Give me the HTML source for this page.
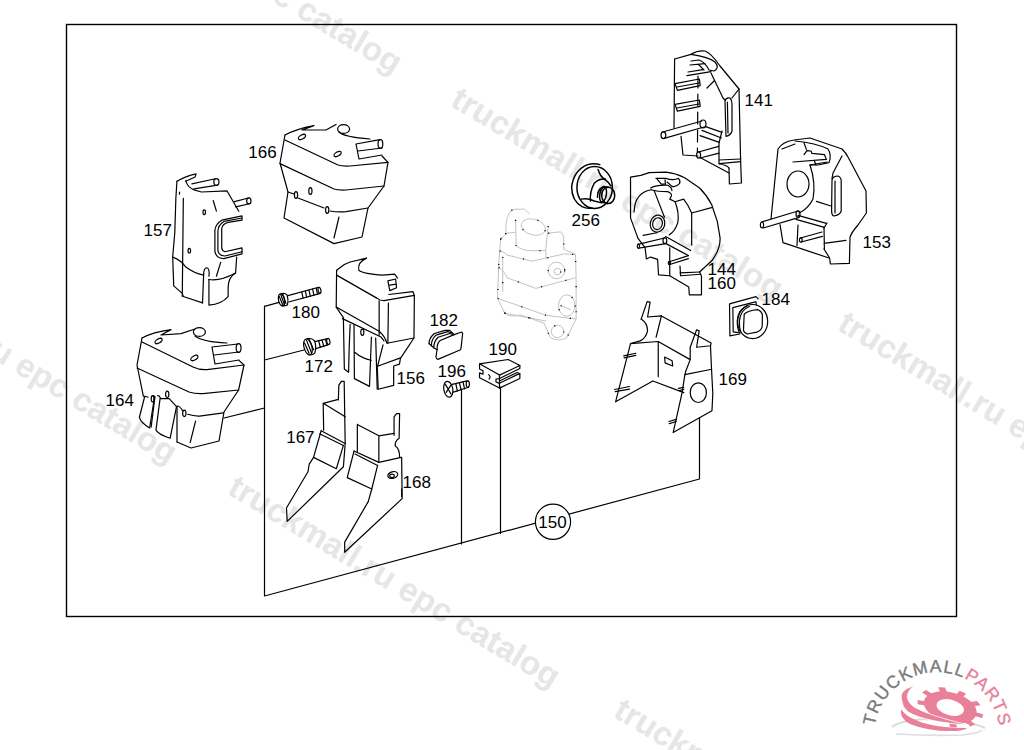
<!DOCTYPE html>
<html><head><meta charset="utf-8">
<style>
html,body{margin:0;padding:0;background:#fff;width:1024px;height:750px;overflow:hidden}
svg{position:absolute;left:0;top:0;display:block}
.d path,.d polyline,.d ellipse,.d circle,.d line,.d rect{fill:none;stroke:#000;stroke-width:1.2;vector-effect:non-scaling-stroke;stroke-linejoin:round;stroke-linecap:round}
.d256 path,.d256 ellipse{stroke-width:1.5}
.lbl{font-family:"Liberation Sans",sans-serif;font-size:17px;fill:#000}
.wm{font-family:"Liberation Sans",sans-serif;font-weight:bold;font-size:33px;fill:#e6e6e6}
</style></head>
<body>
<svg width="1024" height="750" viewBox="0 0 1024 750">
<!-- watermarks -->
<g id="wm">
<text class="wm" transform="translate(68,-121) rotate(31)">truckmall.ru epc catalog</text>
<text class="wm" transform="translate(449,105) rotate(31)">truckmall.ru epc catalog</text>
<text class="wm" transform="translate(836,329) rotate(31)">truckmall.ru epc catalog</text>
<text class="wm" transform="translate(-157,269) rotate(31)">truckmall.ru epc catalog</text>
<text class="wm" transform="translate(226,493) rotate(31)">truckmall.ru epc catalog</text>
<text class="wm" transform="translate(612,716) rotate(31)">truckmall.ru epc catalog</text>
</g>
<!-- border -->
<rect x="66.5" y="24.5" width="890" height="592" fill="none" stroke="#000" stroke-width="1.4"/>
<g class="d">
<!-- 166 -->
<g transform="translate(230,110) scale(0.2)">
<path d="M275,125 L250,265 L290,410 L270,540 L520,668 L660,635 L690,490 L770,380 L790,262 L760,230"/>
<path d="M275,125 Q330,95 420,78 L360,100 L480,100 L530,72"/>
<path d="M545,110 Q570,135 700,145"/>
<ellipse cx="568" cy="95" rx="30" ry="22"/>
<path d="M275,150 L540,275 Q560,282 600,280 L790,262"/>
<path d="M250,268 L520,395 Q540,402 580,400 L770,380"/>
<path d="M290,410 L320,420 M340,440 L470,490 M500,505 Q540,512 580,508 L690,490"/>
<path d="M545,535 L520,640"/>
<path d="M630,170 L750,148 M645,245 L760,225 M630,170 L645,245 M640,205 L760,190"/>
<ellipse cx="752" cy="170" rx="12" ry="22"/>
<ellipse cx="360" cy="135" rx="20" ry="10" transform="rotate(-30 360 135)"/>
<ellipse cx="538" cy="220" rx="20" ry="10" transform="rotate(-30 538 220)"/>
<ellipse cx="330" cy="425" rx="8" ry="17"/>
<ellipse cx="402" cy="405" rx="8" ry="17"/>
<ellipse cx="486" cy="500" rx="8" ry="17"/>
</g>
<!-- 157 -->
<g transform="translate(130,160) scale(0.213333)">
<path d="M220,100 L215,180 L210,340 L200,455 L205,590 L245,625 L250,640 L340,670"/>
<path d="M250,180 L245,640"/>
<path d="M220,100 Q260,75 310,65 L305,80 Q270,95 262,100"/>
<path d="M262,95 Q265,125 300,140 L335,150 L455,145 L510,240"/>
<path d="M290,112 L400,88 M300,135 L410,118"/>
<ellipse cx="405" cy="103" rx="12" ry="16"/>
<path d="M490,195 L555,178 M495,220 L560,205"/>
<ellipse cx="557" cy="192" rx="10" ry="14"/>
<path d="M525,262 L430,282 Q400,300 398,330 L398,430 Q405,462 440,462 L525,440 L525,412 L445,430 Q430,425 430,410 L430,320 Q435,298 460,292 L525,282 Z"/>
<path d="M500,455 L495,530 Q460,550 460,600 L460,640 Q430,675 370,680 L370,560"/>
<path d="M525,272 L440,288 Q412,305 412,335 L412,425 Q418,450 445,450 L525,430"/>
<path d="M200,455 Q240,470 260,500 Q300,530 345,540 M370,560 Q420,570 495,530"/>
<path d="M345,540 Q345,505 360,505 Q375,510 370,545 M345,540 L340,670"/>
<ellipse cx="348" cy="245" rx="6" ry="11"/>
<ellipse cx="278" cy="425" rx="6" ry="11"/>
<path d="M390,190 L405,240 M425,480 L405,545"/>
<path d="M232,150 L232,160"/>
</g>
<!-- 164 -->
<g transform="translate(95,310) scale(0.2)">
<path d="M235,140 L210,275 L242,432"/>
<path d="M235,140 Q290,110 380,98 L330,125 L430,118 L500,95"/>
<ellipse cx="522" cy="110" rx="30" ry="22"/>
<path d="M500,130 Q540,160 660,165"/>
<path d="M585,185 L715,170 M600,270 L720,250 M585,185 L600,270 M595,225 L720,210"/>
<ellipse cx="718" cy="190" rx="12" ry="22"/>
<path d="M720,252 L745,275 L718,400 L645,510 L620,655 L480,690 L410,660"/>
<path d="M235,160 L490,285 Q520,300 560,298 L745,275"/>
<path d="M210,290 L470,410 Q500,420 540,418 L718,400"/>
<ellipse cx="318" cy="155" rx="20" ry="10" transform="rotate(-30 318 155)"/>
<ellipse cx="497" cy="240" rx="20" ry="10" transform="rotate(-30 497 240)"/>
</g>
<!-- 180 172 156 -->
<g transform="translate(255,250) scale(0.2)">
<path d="M48,282 L120,262"/>
<path d="M48,550 L245,500"/>
</g>
<!-- 167 168 -->
<g transform="translate(270,370) scale(0.25316)">
<path d="M270,118 L272,60 L282,45 L293,45 L297,290"/>
<path d="M210,132 L270,116 M210,132 L212,238 M212,132 L297,185"/>
<path d="M202,240 L297,290 M196,252 L290,298"/>
<path d="M202,240 L172,345 L155,372 L150,402 L65,545 L68,598 L290,382 L297,290"/>
<path d="M172,345 L262,390 L290,298"/>
<path d="M490,258 L490,185 L500,172 L512,172 L510,270 Q492,282 495,300 Q512,310 512,345"/>
<path d="M345,215 L430,260 L490,250 M345,215 L345,322 M430,260 L430,362"/>
<path d="M332,320 L430,365 L518,345 M336,332 L425,377"/>
<path d="M332,320 L305,425 L402,470 L388,520 L295,680 L295,720 L522,508 L520,345"/>
<path d="M425,377 L402,470"/>
<path d="M520,470 L520,500"/>
<ellipse cx="485" cy="415" rx="20" ry="13" transform="rotate(-15 485 415)"/>
<ellipse cx="482" cy="418" rx="9" ry="7"/>
</g>
<!-- 182 196 190 -->
<g transform="translate(415,290) scale(0.16)">
<ellipse cx="208" cy="620" rx="28" ry="50" transform="rotate(-10 208 620)"/>
<path d="M190,590 L225,650 M225,595 L195,640"/>
<path d="M232,590 L325,568 M240,638 L335,608"/>
<path d="M255,585 L265,632 M278,580 L288,625 M300,575 L310,618"/>
<ellipse cx="330" cy="588" rx="10" ry="20"/>
</g>
</g>
<!-- 256 -->
<g class="d d256" transform="translate(555,145) scale(0.09333)">
<path d="M480,210 Q420,190 350,210 Q200,270 178,450 Q180,600 290,660 Q340,685 395,675"/>
<ellipse cx="425" cy="455" rx="190" ry="225"/>
<path d="M380,600 Q370,500 420,410 Q470,360 540,365"/>
<ellipse cx="570" cy="540" rx="70" ry="88"/>
<path d="M455,560 Q450,480 520,445 L575,452 M500,612 L560,628"/>
<ellipse cx="515" cy="530" rx="35" ry="82" transform="rotate(10 515 530)"/>
<path d="M462,262 Q480,330 530,365 Q580,400 600,440"/>
<path d="M280,580 Q350,565 420,600 L500,620"/>
</g>
<!-- 141 -->
<g class="d" transform="translate(645,40) scale(0.2)">
<path d="M148,95 L230,72 Q260,52 300,55 Q330,65 375,130 L470,245 L478,600 L482,715 L422,720 L420,640"/>
<path d="M148,95 L145,440"/>
<path d="M230,72 Q320,85 350,110 Q375,140 345,155 L320,150 Q300,110 270,100 L230,105"/>
<path d="M225,125 L300,118 M210,178 L330,158 M215,160 L290,148 M270,125 L295,150"/>
<path d="M330,165 L390,290 L400,300 M470,245 L435,290 M310,240 L345,205"/>
<path d="M150,218 L272,195 L276,228 L162,252 Z M160,235 L270,215"/>
<path d="M150,322 L272,300 L276,332 L162,356 Z M160,340 L270,320"/>
<path d="M265,180 L262,560" stroke-dasharray="12 6"/>
<path d="M88,460 L285,405 M96,492 L295,435"/>
<ellipse cx="290" cy="420" rx="15" ry="20"/>
<ellipse cx="92" cy="476" rx="12" ry="17"/>
<path d="M268,560 L368,532 M275,590 L370,566"/>
<ellipse cx="268" cy="575" rx="10" ry="16"/>
<path d="M400,305 Q405,285 425,290 Q435,300 435,320 L435,455 Q430,475 405,482 Z M412,310 L415,465"/>
<path d="M300,432 L385,462 M285,452 L382,490 M275,478 L372,512"/>
<path d="M180,482 L190,575 L265,580 M280,590 L420,665"/>
<path d="M370,600 L478,595 M372,618 L478,608 M385,455 L370,515 L370,620 Q410,625 420,640"/>
</g>
<!-- 144/160 -->
<g class="d" transform="translate(610,160) scale(0.18667)">
<path d="M110,92 L110,310 L150,420 L188,470 L195,530 L218,520 L255,532 L260,615 L320,620 L422,680 L425,722 L490,722 L490,622 L480,600 L545,540 Q590,480 590,420 L575,330 L545,240 Q520,190 480,150 L400,95 Q350,70 300,65 L210,68 L165,82 L110,92"/>
<path d="M150,452 L292,418 M155,472 L298,448"/>
<ellipse cx="294" cy="432" rx="10" ry="16"/>
<ellipse cx="152" cy="462" rx="6" ry="11"/>
<path d="M298,410 L432,485 M300,448 L420,512"/>
<path d="M318,545 L420,512 M320,560 L420,528"/>
<ellipse cx="318" cy="552" rx="6" ry="9"/>
<path d="M375,568 L378,620 M375,605 L480,600 M380,620 L485,612"/>
<path d="M320,470 L320,620"/>
</g>
<!-- 153 -->
<g class="d" transform="translate(750,125) scale(0.2)">
<path d="M140,120 L105,470 M140,120 Q160,85 220,75 L300,65 L460,120 Q480,140 490,160 L580,330 L582,440 L540,500 Q505,540 500,562 L497,692 L402,695 L398,665 L370,620"/>
<path d="M160,120 L225,95 M270,90 L282,122 M225,80 Q330,90 390,120 Q410,150 395,188 L340,200 L300,200"/>
<path d="M460,155 L415,240 L410,268"/>
<ellipse cx="240" cy="295" rx="55" ry="65"/>
<path d="M300,200 Q330,290 315,370 Q290,420 245,440"/>
<path d="M270,148 L285,128 L305,130 L310,142 L372,148 L382,172 L215,185 M300,200 L385,185 M320,175 L330,200"/>
<path d="M410,275 Q415,255 440,255 Q458,262 456,285 L456,430 Q450,450 418,455 Q408,450 408,430 Z M425,280 L425,440"/>
<path d="M332,382 L405,405"/>
<path d="M58,485 L240,430 M66,515 L246,462"/>
<ellipse cx="240" cy="445" rx="10" ry="16"/>
<ellipse cx="60" cy="500" rx="8" ry="15"/>
<path d="M240,452 L382,492 M230,472 L372,512 M385,490 L370,515"/>
<path d="M252,565 L360,535 M256,585 L362,557"/>
<ellipse cx="254" cy="575" rx="7" ry="11"/>
<path d="M150,498 L165,588 L395,665 M240,500 L235,602"/>
<path d="M370,592 L480,577 M370,510 L372,622"/>
</g>
<!-- 169 184 -->
<g class="d" transform="translate(590,285) scale(0.21322)">
<path d="M240,160 L268,78 L282,80 L270,150 L335,145 L568,272 L565,285 L500,292 L512,215 L500,210 L470,292"/>
<path d="M240,160 Q270,180 270,215 Q262,250 235,262 L190,275 L120,548 L295,450 L440,505"/>
<path d="M190,275 L320,265 L470,350 L450,402 L445,420 L570,395 L565,285 M320,265 L320,430 M335,145 L310,245 M470,292 L470,350"/>
<path d="M350,338 L385,355 L388,380 L352,365 Z"/>
<path d="M445,420 L432,505 L390,692 L572,590 L576,510 L570,395"/>
<ellipse cx="508" cy="505" rx="38" ry="46"/>
<path d="M158,332 L215,320 M160,342 L215,330 M115,490 L185,476 M118,500 L185,488 M370,640 L405,630 M372,650 L405,640 M415,485 L440,480 M418,495 L440,490"/>
</g>
<!-- 184 -->
<g class="d" transform="translate(720,290) scale(0.07335)">
<path d="M130,190 L490,90 L520,120 M130,190 L135,625 L270,600"/>
<path d="M175,240 L470,165 L490,160 L495,205 M175,240 L180,570 L250,580"/>
<path d="M380,210 Q250,260 235,420 Q235,540 270,590"/>
<path d="M400,225 Q280,270 265,420 Q262,520 285,575"/>
<ellipse cx="445" cy="430" rx="205" ry="232"/>
<path d="M330,330 Q380,280 510,268 Q570,290 578,340 L575,500 Q560,560 500,575 L370,600 Q320,580 320,540 Z"/>
</g>
<!-- 156 -->
<g class="d" transform="translate(325,250) scale(0.19342)">
<path d="M60,105 L100,75 L130,62 L215,42 Q165,65 175,105 Q200,125 300,130 L360,125 L375,145"/>
<path d="M325,160 L365,150 L370,195 L335,210 Z M335,182 L368,176"/>
<path d="M330,230 L455,215 L462,235"/>
<path d="M60,105 L58,295 L95,350 L100,615 L122,632 L125,505 L130,385"/>
<path d="M60,130 L270,250 Q285,262 305,262 L462,235 L460,455 L390,560 L385,590 L355,600 L355,700 L275,720 L270,600"/>
<path d="M58,295 L280,420 Q310,445 320,482 L460,455"/>
<path d="M90,355 L290,450 L305,470"/>
<path d="M280,262 L280,440 M328,275 L325,482 M300,490 L272,600 M275,600 L390,558"/>
<path d="M150,385 L152,665 L230,705 L240,450 M155,530 Q190,560 240,570"/>
<path d="M262,455 L270,720"/>
<ellipse cx="193" cy="425" rx="8" ry="16"/>
</g>
<!-- 190 -->
<g class="d" transform="translate(470,330) scale(0.0867)">
<path d="M110,390 L440,340 L575,410 L340,520 Z"/>
<path d="M110,390 L110,450 L150,470 L150,510 L110,495 L110,550 L340,670 L340,520"/>
<path d="M575,410 L575,445 L340,560 L300,565 L300,600 L340,615 L545,515 L575,505 L575,560 L340,670"/>
<path d="M340,588 L545,490 L575,505"/>
<path d="M215,515 Q245,540 220,565"/>
</g>
<!-- 144 upper -->
<g class="d" transform="translate(625,165) scale(0.10667)">
<path d="M85,440 Q90,260 245,232"/>
<path d="M240,215 Q300,185 400,190 Q440,210 440,240"/>
<path d="M245,232 Q300,250 400,250 Q440,265 435,290 L420,320 L470,345 L550,320 L590,380 L625,450"/>
<path d="M275,245 L370,490"/>
<path d="M470,345 Q510,450 495,540 Q470,620 415,655"/>
<ellipse cx="305" cy="550" rx="68" ry="80" transform="rotate(15 305 550)"/>
<ellipse cx="305" cy="550" rx="45" ry="56" transform="rotate(15 305 550)"/>
<path d="M170,660 L300,635"/>
<path d="M625,450 L811,399 M625,450 L625,750"/>
<path d="M290,125 L380,125 Q460,150 500,125 Q525,150 510,175 Q480,210 440,200 L395,160 M300,130 L340,180 L380,180 L375,140"/>
</g>
<!-- 182 -->
<g class="d" transform="translate(420,325) scale(0.0533)">
<path d="M320,460 L300,600 Q305,640 335,645 L750,470 Q770,450 770,430 L800,160 Q790,130 770,135 L640,180"/>
<path d="M170,350 Q165,250 270,160 L470,100 L560,100 L640,180"/>
<path d="M215,390 Q205,280 300,190 L520,125 L600,150"/>
<path d="M260,430 Q255,310 340,230 L560,160 L640,180"/>
<path d="M320,460 Q320,330 380,290 L640,180"/>
<path d="M170,350 L215,390 L260,430 L320,460"/>
</g>
<!-- screws 180 172 -->
<g class="d" transform="translate(270,275) scale(0.11327)">
<ellipse cx="102" cy="220" rx="27" ry="54" transform="rotate(-12 102 220)"/>
<path d="M100,166 Q130,155 150,175 Q165,215 155,262 Q140,275 110,273"/>
<path d="M82,190 L112,262 M95,172 L128,262 M112,168 L140,250"/>
<path d="M158,182 L430,108 M165,238 L445,162"/>
<ellipse cx="437" cy="135" rx="12" ry="27" transform="rotate(-12 437 135)"/>
<path d="M280,150 L292,205 M312,142 L324,196 M344,133 L356,188 M376,124 L388,179 M408,116 L420,170"/>
<ellipse cx="335" cy="635" rx="35" ry="72" transform="rotate(-15 335 635)"/>
<path d="M330,562 Q375,555 395,585 Q412,635 395,690 Q380,705 350,705"/>
<path d="M305,600 L345,690 M322,575 L368,690 M345,568 L385,660"/>
<path d="M395,588 L510,562 M405,650 L522,612"/>
<ellipse cx="515" cy="587" rx="14" ry="27" transform="rotate(-12 515 587)"/>
<path d="M430,582 L445,640 M460,575 L475,632 M490,568 L503,622"/>
</g>
<!-- 164 tabs -->
<g class="d" transform="translate(135,385) scale(0.09766)">
<path d="M135,125 L100,115 L45,330 Q55,385 150,440 L200,120 Q190,105 180,110"/>
<path d="M205,118 L165,432"/>
<path d="M232,108 Q255,110 258,130 L215,460 Q230,500 360,545 L425,222 L350,140 L290,140 L262,140"/>
<ellipse cx="180" cy="140" rx="14" ry="32"/>
<ellipse cx="330" cy="95" rx="17" ry="33"/>
<ellipse cx="505" cy="290" rx="17" ry="33"/>
<path d="M430,215 Q460,215 485,260 M430,215 L430,583"/>
<path d="M540,300 Q600,320 660,318 L905,285"/>
<path d="M620,370 L565,590"/>
</g>
<!-- ghost part -->
<g transform="translate(480,195) scale(0.2067)" fill="none" stroke="#c2c2c2" stroke-width="1" vector-effect="non-scaling-stroke" style="vector-effect:non-scaling-stroke">
<path vector-effect="non-scaling-stroke" d="M125,190 Q120,90 160,70 L215,68 L240,92"/>
<ellipse vector-effect="non-scaling-stroke" cx="258" cy="155" rx="60" ry="38" transform="rotate(15 258 155)"/>
<path vector-effect="non-scaling-stroke" d="M172,120 L175,245 Q200,270 260,270 L318,268 L320,310 M330,150 L318,268"/>
<path vector-effect="non-scaling-stroke" d="M100,212 L130,185 L172,180 M330,185 L390,178 L405,200 L405,262 L462,288 L465,400 L465,600 L420,690 Q380,712 340,690 L310,620"/>
<path vector-effect="non-scaling-stroke" d="M100,212 L95,270 L90,350 L85,500 L120,572 Q150,595 195,580 L310,620"/>
<path vector-effect="non-scaling-stroke" d="M95,270 Q120,275 130,290 L250,320 Q300,310 405,285 L462,288"/>
<path vector-effect="non-scaling-stroke" d="M90,350 Q120,370 130,400 L270,452 Q350,430 465,400"/>
<path vector-effect="non-scaling-stroke" d="M85,500 L320,582 L465,600 M120,572 L320,610"/>
<circle vector-effect="non-scaling-stroke" cx="370" cy="365" r="40"/>
<circle vector-effect="non-scaling-stroke" cx="375" cy="370" r="16"/>
<ellipse vector-effect="non-scaling-stroke" cx="420" cy="535" rx="40" ry="52"/>
<path vector-effect="non-scaling-stroke" d="M390,535 L440,555"/>
<circle vector-effect="non-scaling-stroke" cx="375" cy="660" r="30"/>
<path vector-effect="non-scaling-stroke" d="M110,300 L110,470"/>
</g>
<!-- ghost dots -->
<g transform="translate(480,195) scale(0.2067)" fill="none" stroke="#000" stroke-width="1.3" stroke-dasharray="1.1 24" vector-effect="non-scaling-stroke" style="vector-effect:non-scaling-stroke">
<path vector-effect="non-scaling-stroke" d="M125,190 Q120,90 160,70 L215,68 L240,92"/>
<ellipse vector-effect="non-scaling-stroke" cx="258" cy="155" rx="60" ry="38" transform="rotate(15 258 155)"/>
<path vector-effect="non-scaling-stroke" d="M172,120 L175,245 Q200,270 260,270 L318,268 L320,310 M330,150 L318,268"/>
<path vector-effect="non-scaling-stroke" d="M100,212 L130,185 L172,180 M330,185 L390,178 L405,200 L405,262 L462,288 L465,400 L465,600 L420,690 Q380,712 340,690 L310,620"/>
<path vector-effect="non-scaling-stroke" d="M100,212 L95,270 L90,350 L85,500 L120,572 Q150,595 195,580 L310,620"/>
<path vector-effect="non-scaling-stroke" d="M95,270 Q120,275 130,290 L250,320 Q300,310 405,285 L462,288"/>
<path vector-effect="non-scaling-stroke" d="M90,350 Q120,370 130,400 L270,452 Q350,430 465,400"/>
<path vector-effect="non-scaling-stroke" d="M85,500 L320,582 L465,600 M120,572 L320,610"/>
<circle vector-effect="non-scaling-stroke" cx="370" cy="365" r="40"/>
<circle vector-effect="non-scaling-stroke" cx="375" cy="370" r="16"/>
<ellipse vector-effect="non-scaling-stroke" cx="420" cy="535" rx="40" ry="52"/>
<path vector-effect="non-scaling-stroke" d="M390,535 L440,555"/>
<circle vector-effect="non-scaling-stroke" cx="375" cy="660" r="30"/>
<path vector-effect="non-scaling-stroke" d="M110,300 L110,470"/>
</g>
<!-- bracket lines -->
<g class="d">
<path d="M264.5,306 L264.5,596 L699.5,479 L699.5,418"/>
<path d="M461.5,389 L461.5,544 M500.5,387 L500.5,533.5 M224,418 L264.5,408"/>
<circle cx="553" cy="521.8" r="17.6" fill="#fff" style="fill:#fff"/>
</g>
<!-- logo -->
<g id="logo">
<path id="arc" d="M874.7,726.2 A62.9,62.9 0 1 1 994.0,761.6" fill="none" stroke="none"/>
<text style="font-family:'Liberation Sans',sans-serif;font-size:17.6px;letter-spacing:1.2px"><textPath href="#arc"><tspan fill="#7a7a7a" stroke="#7a7a7a" stroke-width="0.35">TRUCKMALL</tspan><tspan fill="#e8809a" stroke="#e8809a" stroke-width="0.35">PARTS</tspan></textPath></text>
<path d="M892,727 Q900,720 930,719 Q965,719 985,728" fill="none" stroke="#dcdcd4" stroke-width="2"/>
<path d="M896,734 Q930,736 962,735 Q980,733 982,730" fill="none" stroke="#dedede" stroke-width="1.6"/>
<g transform="translate(950.3,707.5) rotate(15) scale(1,0.56)" fill="#e8809a">
<circle r="20.5" fill="none" stroke="#e8809a" stroke-width="13"/>
<rect x="-3.6" y="-33.5" width="7.2" height="9" transform="rotate(-100)"/>
<rect x="-3.6" y="-33.5" width="7.2" height="9" transform="rotate(-62)"/>
<rect x="-3.6" y="-33.5" width="7.2" height="9" transform="rotate(-24)"/>
<rect x="-3.6" y="-33.5" width="7.2" height="9" transform="rotate(14)"/>
<rect x="-3.6" y="-33.5" width="7.2" height="9" transform="rotate(52)"/>
<rect x="-3.6" y="-33.5" width="7.2" height="9" transform="rotate(90)"/>
<rect x="-3.6" y="-33.5" width="7.2" height="9" transform="rotate(128)"/>
<rect x="-3.6" y="-33.5" width="7.2" height="9" transform="rotate(166)"/>
</g>
<path d="M915.2,685.3 Q898,690 901.7,700 Q902,707 908,712 Q925,722 969,725.1 Q930,716 914,707 Q905,700 908.1,692.9 Q910,688 915.2,685.3 Z" fill="#e8809a" stroke="#fff" stroke-width="0.8"/>
<path d="M901.1,709.3 Q899,718 910,724 Q930,732 956,731 Q966,730 966.7,728 Q935,728 918,721 Q905,716 901.1,709.3 Z" fill="#e8809a"/>
</g>
<!-- labels -->
<text class="lbl" x="248.3" y="157.8">166</text>
<text class="lbl" x="143.5" y="235.7">157</text>
<text class="lbl" x="105.5" y="406.0">164</text>
<text class="lbl" x="291.5" y="318.0">180</text>
<text class="lbl" x="304.5" y="372.0">172</text>
<text class="lbl" x="396.5" y="384.0">156</text>
<text class="lbl" x="286.2" y="443.4">167</text>
<text class="lbl" x="402.5" y="488.0">168</text>
<text class="lbl" x="429.5" y="326.0">182</text>
<text class="lbl" x="488.5" y="354.8">190</text>
<text class="lbl" x="437.5" y="377.0">196</text>
<text class="lbl" x="571.5" y="226.0">256</text>
<text class="lbl" x="744.5" y="106.0">141</text>
<text class="lbl" x="707.5" y="274.8">144</text>
<text class="lbl" x="707.5" y="288.8">160</text>
<text class="lbl" x="862.5" y="248.0">153</text>
<text class="lbl" x="761.5" y="305.0">184</text>
<text class="lbl" x="718.5" y="385.0">169</text>
<text class="lbl" x="538.3" y="528.0">150</text>
</svg>
</body></html>
